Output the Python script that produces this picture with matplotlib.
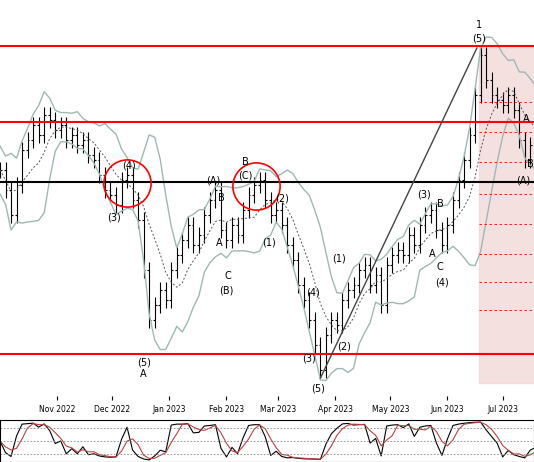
import matplotlib
matplotlib.use("Agg")
import matplotlib.pyplot as plt
import numpy as np
import pandas as pd
from matplotlib.patches import Rectangle

# closes every 3 days starting 2022-10-01 (price units arbitrary)
ys = [170,190,215,185,150,140,125,135,115,120,130,125,140,135,145,140,155,160,175,190,195,205,180,175,200,220,270,320,305,290,300,270,255,240,225,245,235,215,200,190,230,240,225,235,210,195,185,180,200,215,210,225,245,260,285,300,320,345,370,335,320,325,300,290,285,270,265,285,275,305,265,255,250,255,235,245,225,215,210,230,245,225,200,180,160,135,95,55,80,95,100,105,95,110,140,160,145,140]
closes = [400 - v for v in ys]
days = [i * 3 for i in range(len(closes))]
month_labels = ["Nov 2022","Dec 2022","Jan 2023","Feb 2023","Mar 2023","Apr 2023","May 2023","Jun 2023","Jul 2023"]
month_days = [31,61,92,123,151,182,212,243,273]
hlines_red = [354, 278, 46]
hline_black = 218

fig = plt.figure(figsize=(5.34, 4.62), dpi=100)
ax = fig.add_axes([0, 0.134, 1, 0.866])
ax2 = fig.add_axes([0, 0.0, 1, 0.091])

c = np.array(closes, float)
o = np.concatenate([[c[0]], c[:-1]])
hi = np.maximum(o, c) + 8
lo = np.minimum(o, c) - 8
for d, oo, cc, h, l in zip(days, o, c, hi, lo):
    ax.vlines(d, l, h, color="black", lw=0.8)
    ax.hlines(oo, d - 1, d, color="black", lw=0.8)
    ax.hlines(cc, d, d + 1, color="black", lw=0.8)

s = pd.Series(c)
m = s.rolling(7, min_periods=1).mean()
sd = s.rolling(7, min_periods=2).std().bfill()
ax.plot(days, m + 1.7 * sd, color="#9fb8b4", lw=1)
ax.plot(days, m - 1.7 * sd, color="#9fb8b4", lw=1)
ax.plot(days, m, color="#555555", lw=0.7, ls=(0, (2, 2)))

for v in hlines_red:
    ax.axhline(v, color="red", lw=1.5)
ax.axhline(hline_black, color="black", lw=1.5)

ax.add_patch(Rectangle((260, 17), 40, 337, color="#f2d3d3", alpha=0.7, zorder=0))
for v in [298, 268, 238, 206, 176, 146, 118, 90]:
    ax.hlines(v, 260, 300, color="red", lw=0.6, ls=(0, (3, 3)))
ax.plot([174, 259], [22, 352], color="#444444", lw=1)

for d, p in [(69, 217), (139, 214)]:
    ax.plot(d, p, "o", ms=34, mfc="none", mec="red", mew=1.2)

labels = [("(4)", 70, 235), ("(3)", 62, 183), ("(5)", 78, 38), ("A", 78, 26),
          ("(A)", 116, 220), ("B", 120, 202), ("A", 119, 157), ("C", 124, 124), ("(B)", 123, 110),
          ("B", 133, 238), ("(C)", 133, 225), ("(2)", 153, 202), ("(1)", 146, 158),
          ("(1)", 184, 142), ("(4)", 170, 108), ("(3)", 168, 42), ("(2)", 187, 54), ("(5)", 173, 12),
          ("(3)", 230, 206), ("B", 239, 196), ("A", 235, 146), ("C", 239, 133), ("(4)", 240, 118),
          ("1", 260, 375), ("(5)", 260, 362), ("(A)", 284, 220), ("A", 286, 281), ("B", 288, 236)]
for t, d, p in labels:
    ax.text(d, p, t, fontsize=7, ha="center", va="center", clip_on=False)

ax.set_xlim(0, 290)
ax.set_ylim(0, 400)
ax.set_yticks([])
ax.set_xticks(month_days)
ax.set_xticklabels(month_labels, fontsize=5.5)
ax.tick_params(axis="x", direction="in", length=3)
for sp in ax.spines.values():
    sp.set_visible(False)

# stochastic oscillator
low14 = pd.Series(lo).rolling(5, min_periods=1).min()
high14 = pd.Series(hi).rolling(5, min_periods=1).max()
k = 100 * (s - low14) / (high14 - low14)
dline = k.rolling(3, min_periods=1).mean()
ax2.plot(days, k, color="black", lw=0.8)
ax2.plot(days, dline, color="#c04040", lw=0.8)
for v in [20, 50, 80]:
    ax2.axhline(v, color="#888888", lw=0.6, ls=(0, (2, 2)))
ax2.set_xlim(0, 290)
ax2.set_ylim(0, 100)
ax2.set_xticks([])
ax2.set_yticks([])
fig.savefig("out.png", dpi=100)
